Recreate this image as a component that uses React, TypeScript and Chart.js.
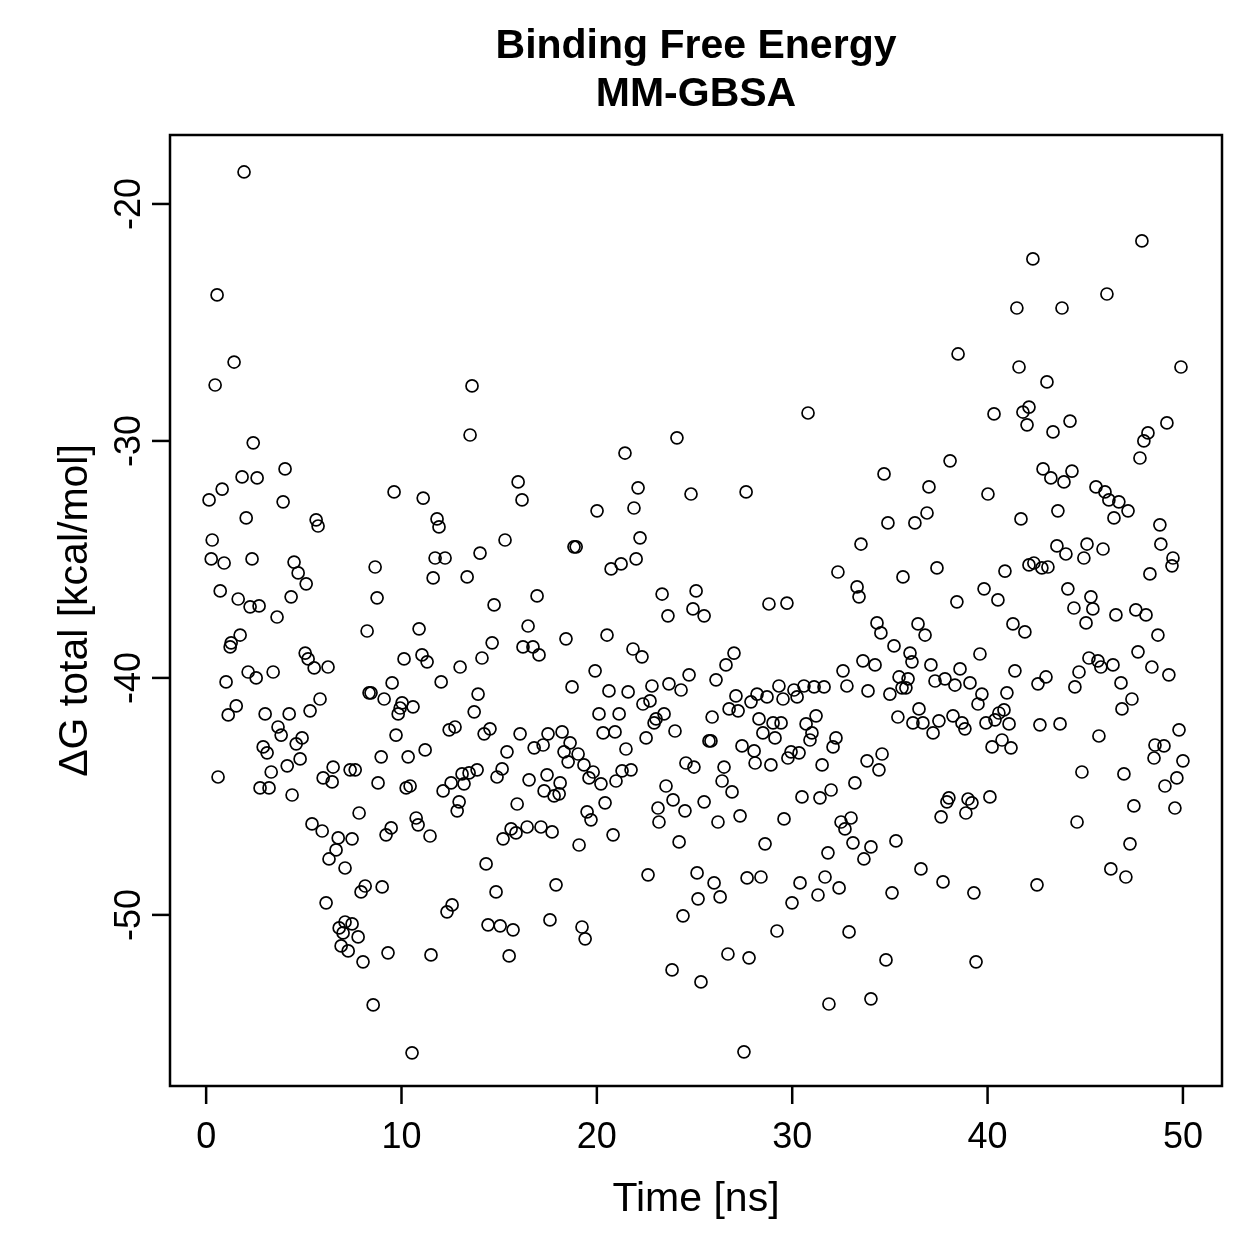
import React, { useEffect, useRef } from "react";
import { Chart, registerables } from "chart.js";

Chart.register(...registerables);

const chartTitle = ["Binding Free Energy", "MM-GBSA"];
const xAxisTitle = "Time [ns]";
const yAxisTitle = "ΔG total [kcal/mol]";
const xTicks = [0, 10, 20, 30, 40, 50];
const yTicks = [-50, -40, -30, -20];
const xRange = [-1.85, 52.0];
const yRange = [-57.22, -17.09];

const timeNs = [
  1.94, 0.56, 1.43, 0.46, 2.41, 4.04, 1.84, 2.61, 0.82, 0.15, 3.94, 2.05, 5.63, 5.73, 0.31, 0.26, 0.92, 2.35, 4.50, 4.71,
  5.12, 0.72, 1.64, 2.25, 2.71, 4.35, 3.63, 1.74, 1.28, 1.23, 5.07, 5.22, 5.53, 6.24, 2.15, 2.56, 3.43, 1.02, 1.54, 1.13,
  3.02, 4.25, 5.32, 5.83, 3.68, 3.84, 4.91, 4.61, 2.92, 3.12, 4.81, 4.15, 3.33, 0.61, 2.76, 3.22, 4.40, 5.99, 6.50, 6.45,
  7.37, 5.42, 5.94, 6.76, 6.65, 6.29, 7.11, 6.14, 6.81, 7.11, 7.01, 6.91, 7.27, 7.47, 7.78, 8.03, 8.24, 10.90, 16.48, 16.22,
  14.64, 14.12, 13.00, 10.13, 11.05, 11.31, 12.03, 9.52, 8.34, 8.44, 9.11, 10.03, 9.93, 9.83, 10.59, 13.92, 13.72, 12.44, 12.74, 14.23,
  14.53, 16.07, 9.72, 15.40, 8.96, 10.34, 11.21, 7.63, 8.80, 10.24, 10.44, 12.13, 12.54, 13.10, 13.46, 13.87, 13.20, 15.15, 14.89, 16.53,
  12.95, 12.85, 15.92, 7.83, 10.75, 10.85, 11.46, 9.47, 9.21, 7.47, 15.61, 15.86, 15.20, 16.43, 14.33, 8.14, 7.93, 9.01, 14.84, 12.59,
  12.33, 9.31, 11.51, 14.43, 15.05, 15.71, 15.51, 8.55, 10.54, 13.61, 13.51, 9.62, 11.11, 15.97, 16.17, 11.82, 11.92, 15.30, 14.02, 11.72,
  12.23, 8.65, 11.62, 13.36, 8.75, 14.74, 24.10, 21.44, 22.11, 24.82, 20.01, 21.90, 18.83, 18.94, 22.21, 22.01, 21.24, 20.73, 16.94, 23.34,
  25.08, 24.92, 23.64, 16.73, 17.04, 18.42, 20.52, 21.85, 22.31, 19.91, 18.73, 20.62, 21.60, 22.82, 23.69, 24.31, 24.72, 22.36, 22.72, 20.11,
  21.14, 23.44, 22.93, 23.03, 24.00, 22.52, 20.32, 20.93, 17.50, 18.22, 17.25, 16.79, 18.63, 18.32, 19.04, 18.53, 19.34, 19.81, 19.60, 20.21,
  20.98, 21.29, 21.75, 21.49, 17.45, 18.12, 17.30, 17.81, 18.07, 20.42, 23.54, 23.90, 23.13, 24.51, 24.56, 24.97, 25.49, 19.50, 19.70, 17.14,
  17.71, 23.18, 20.83, 19.09, 24.21, 22.62, 25.13, 25.18, 17.91, 17.60, 19.24, 19.40, 24.41, 23.85, 25.33, 30.81, 27.64, 33.52, 32.34, 33.32,
  33.42, 28.81, 29.73, 25.49, 34.34, 27.02, 26.61, 26.10, 32.60, 33.62, 34.24, 32.80, 33.88, 27.12, 28.20, 28.71, 29.32, 29.53, 30.09, 30.25,
  30.60, 31.12, 31.63, 27.89, 26.77, 27.23, 25.90, 28.30, 29.02, 29.43, 31.22, 30.71, 31.01, 30.91, 28.50, 29.12, 32.24, 32.09, 25.74, 25.84,
  27.43, 28.05, 29.94, 30.35, 29.78, 28.10, 28.91, 31.53, 33.83, 34.44, 26.51, 26.41, 26.92, 30.50, 31.42, 31.99, 33.21, 26.20, 27.33, 29.58,
  32.50, 32.70, 33.01, 28.61, 33.11, 34.03, 31.83, 33.67, 26.00, 26.31, 27.69, 28.40, 30.40, 31.68, 31.32, 32.40, 29.99, 29.22, 32.91, 26.71,
  27.79, 31.88, 34.03, 27.53, 42.32, 41.50, 38.49, 41.61, 43.04, 40.33, 41.81, 42.12, 42.02, 43.35, 38.08, 34.70, 37.00, 40.02, 42.84, 43.24,
  34.90, 36.28, 36.90, 41.71, 43.55, 35.67, 37.41, 40.89, 42.12, 42.37, 42.78, 43.09, 39.82, 40.53, 38.43, 34.54, 36.44, 36.80, 41.30, 41.91,
  35.21, 36.03, 36.13, 37.10, 39.61, 38.59, 41.40, 35.47, 35.93, 35.62, 35.82, 35.00, 37.31, 37.82, 38.33, 39.10, 39.71, 39.51, 40.99, 42.58,
  42.99, 36.49, 35.41, 36.18, 36.69, 37.51, 38.23, 38.69, 38.84, 37.21, 39.92, 40.38, 40.58, 40.84, 41.10, 42.68, 40.23, 40.74, 41.20, 34.60,
  38.02, 37.92, 39.00, 39.20, 38.89, 37.62, 40.12, 35.31, 36.59, 37.72, 35.11, 39.30, 42.53, 34.80, 39.41, 47.90, 46.11, 43.81, 49.90, 44.22,
  49.18, 48.21, 48.00, 47.80, 43.91, 44.32, 45.55, 46.01, 46.21, 46.72, 47.19, 46.47, 43.60, 48.82, 48.87, 49.49, 49.44, 44.01, 45.09, 44.93,
  45.91, 48.31, 44.11, 45.29, 44.42, 45.39, 46.57, 47.59, 48.11, 45.04, 48.72, 47.70, 45.19, 45.65, 45.80, 46.42, 44.68, 44.47, 48.41, 49.28,
  46.83, 47.39, 46.88, 43.71, 45.70, 49.80, 48.57, 49.03, 48.52, 50.00, 49.69, 49.08, 44.83, 46.98, 47.49, 49.59, 44.58, 47.29, 46.31, 47.08,
];

const deltaG = [
  -18.65, -23.84, -26.67, -27.64, -30.08, -31.18, -31.52, -31.56, -32.03, -32.49, -32.57, -33.25, -33.33, -33.59, -34.18, -34.98, -35.15, -34.98, -35.11, -35.57,
  -36.03, -36.33, -36.67, -37.00, -36.96, -36.58, -37.43, -38.19, -38.52, -38.69, -38.95, -39.20, -39.58, -39.54, -39.75, -40.00, -39.75, -40.17, -41.18, -41.56,
  -41.52, -41.52, -41.39, -40.89, -42.07, -42.41, -42.53, -42.78, -42.91, -43.16, -43.42, -43.71, -43.97, -44.18, -44.64, -44.64, -44.94, -44.22, -43.76, -44.39,
  -43.88, -46.16, -46.46, -46.75, -47.26, -47.64, -48.02, -49.49, -50.55, -50.30, -50.76, -51.31, -51.52, -50.38, -50.93, -51.98, -38.02, -37.93, -37.81, -38.69,
  -38.52, -39.16, -39.54, -39.20, -39.03, -39.32, -40.17, -40.21, -40.63, -40.63, -40.89, -41.05, -41.27, -41.52, -41.22, -40.68, -41.43, -42.19, -42.07, -42.36,
  -42.15, -42.36, -42.41, -43.12, -43.33, -43.33, -43.04, -43.88, -44.43, -44.64, -44.56, -44.77, -44.43, -44.05, -44.01, -43.88, -44.47, -43.84, -44.18, -44.30,
  -45.23, -45.61, -45.32, -45.70, -45.91, -46.20, -46.67, -46.33, -46.62, -46.79, -46.37, -46.54, -46.79, -46.29, -47.85, -48.78, -49.03, -48.82, -49.03, -49.58,
  -49.87, -51.60, -51.69, -50.42, -50.46, -50.63, -51.73, -53.80, -55.82, -27.68, -29.75, -32.15, -32.41, -31.73, -32.49, -33.29, -33.63, -34.18, -34.73, -34.94,
  -34.94, -35.32, -35.78, -35.74, -36.62, -36.92, -29.87, -30.51, -31.98, -32.24, -32.95, -32.83, -34.47, -34.47, -34.09, -34.98, -35.19, -35.40, -36.54, -36.46,
  -36.33, -37.09, -37.38, -38.69, -39.03, -38.35, -38.19, -38.78, -39.11, -39.70, -40.38, -40.55, -40.59, -40.34, -40.25, -40.51, -39.87, -41.10, -40.97, -41.52,
  -41.52, -41.52, -41.90, -41.73, -42.24, -42.53, -42.32, -42.28, -42.36, -42.28, -42.83, -42.95, -42.74, -43.12, -43.21, -43.54, -43.67, -43.97, -44.22, -44.47,
  -44.35, -43.92, -43.88, -43.00, -44.09, -44.43, -44.77, -44.98, -44.89, -45.27, -44.56, -45.15, -45.49, -45.61, -43.59, -43.76, -45.23, -45.65, -45.99, -46.29,
  -46.50, -46.08, -46.62, -47.05, -46.92, -48.31, -48.23, -49.32, -48.73, -50.21, -50.51, -51.01, -50.04, -52.32, -52.83, -28.82, -32.15, -34.35, -35.53, -36.16,
  -36.58, -36.88, -36.84, -37.38, -37.68, -38.95, -39.45, -40.08, -39.70, -39.28, -39.45, -40.34, -40.55, -40.76, -40.68, -40.80, -40.34, -40.89, -40.51, -40.80,
  -40.34, -40.38, -40.38, -41.01, -41.31, -41.39, -41.65, -41.73, -41.90, -41.90, -41.60, -41.94, -42.32, -42.62, -42.32, -42.53, -42.53, -42.91, -42.66, -42.66,
  -42.87, -43.08, -43.12, -43.16, -43.38, -43.59, -43.67, -43.67, -43.50, -43.88, -43.76, -44.35, -44.81, -45.02, -45.06, -44.73, -44.43, -46.08, -45.82, -45.95,
  -46.08, -46.37, -45.91, -47.00, -46.96, -47.13, -47.38, -47.64, -48.65, -49.24, -48.44, -48.40, -48.65, -48.40, -49.16, -48.86, -49.49, -50.68, -50.72, -51.65,
  -51.81, -53.76, -53.54, -55.78, -22.32, -24.39, -26.33, -26.88, -27.51, -28.86, -28.78, -28.57, -29.32, -29.62, -30.84, -31.39, -31.94, -32.24, -31.18, -31.56,
  -33.46, -33.46, -33.04, -33.29, -34.43, -35.74, -35.36, -35.49, -35.23, -35.15, -35.36, -35.32, -36.24, -36.71, -36.79, -38.10, -37.72, -38.19, -37.72, -38.06,
  -38.65, -38.95, -39.32, -39.45, -38.99, -39.62, -39.70, -39.96, -40.04, -40.42, -40.42, -40.68, -40.13, -40.04, -40.30, -40.21, -40.68, -41.10, -40.63, -40.25,
  -39.96, -41.31, -41.65, -41.90, -41.90, -41.81, -41.60, -41.90, -42.15, -42.32, -41.90, -41.77, -41.48, -41.35, -41.94, -41.98, -42.91, -42.62, -42.95, -43.21,
  -45.06, -45.23, -45.11, -45.27, -45.70, -45.86, -45.02, -46.88, -48.06, -48.61, -49.07, -49.07, -48.73, -51.90, -51.98, -21.56, -23.80, -24.39, -26.88, -29.16,
  -29.24, -29.66, -30.00, -30.72, -31.73, -31.27, -31.94, -32.15, -32.49, -32.57, -32.95, -33.25, -32.95, -33.54, -34.35, -34.94, -35.27, -34.77, -34.35, -34.94,
  -34.56, -35.61, -36.24, -36.58, -37.05, -37.09, -37.34, -37.13, -37.34, -37.68, -38.19, -38.90, -39.16, -39.28, -39.54, -39.45, -39.75, -40.38, -39.54, -39.87,
  -40.21, -40.89, -41.31, -41.94, -42.45, -42.19, -42.83, -42.87, -43.38, -43.50, -44.22, -44.56, -43.97, -44.05, -45.40, -45.49, -46.08, -47.00, -48.06, -48.40,
];

const FONT = "'Liberation Sans', Arial, Helvetica, sans-serif";

const rAxesPlugin = {
  id: "rAxes",
  afterDraw(chart: any) {
    const { ctx, chartArea } = chart;
    const xs = chart.scales.x;
    const ys = chart.scales.y;
    const { left, right, top, bottom } = chartArea;
    ctx.save();
    ctx.strokeStyle = "#000";
    ctx.fillStyle = "#000";
    ctx.lineWidth = 2.5;
    ctx.strokeRect(left, top, right - left, bottom - top);

    const tick = 18;
    ctx.font = `36px ${FONT}`;
    ctx.textAlign = "center";
    ctx.textBaseline = "middle";
    xTicks.forEach((v) => {
      const px = xs.getPixelForValue(v);
      ctx.beginPath();
      ctx.moveTo(px, bottom);
      ctx.lineTo(px, bottom + tick);
      ctx.stroke();
      ctx.fillText(String(v), px, 1138);
    });
    yTicks.forEach((v) => {
      const py = ys.getPixelForValue(v);
      ctx.beginPath();
      ctx.moveTo(left, py);
      ctx.lineTo(left - tick, py);
      ctx.stroke();
      ctx.save();
      ctx.translate(130, py);
      ctx.rotate(-Math.PI / 2);
      ctx.fillText(String(v), 0, 0);
      ctx.restore();
    });

    const cx = (left + right) / 2;
    const cy = (top + bottom) / 2;
    ctx.font = `41px ${FONT}`;
    ctx.fillText(xAxisTitle, cx, 1200);
    ctx.save();
    ctx.translate(76, cy);
    ctx.rotate(-Math.PI / 2);
    ctx.fillText(yAxisTitle, 0, 0);
    ctx.restore();

    ctx.font = `bold 41px ${FONT}`;
    ctx.fillText(chartTitle[0], cx, 47);
    ctx.fillText(chartTitle[1], cx, 95);
    ctx.restore();
  },
};

export default function App() {
  const ref = useRef<HTMLCanvasElement | null>(null);
  useEffect(() => {
    if (!ref.current) return;
    const points = timeNs.map((t, i) => ({ x: t, y: deltaG[i] }));
    const chart = new Chart(ref.current, {
      type: "scatter",
      data: {
        datasets: [
          {
            data: points,
            pointStyle: "circle",
            pointRadius: 6,
            pointBorderWidth: 1.7,
            borderColor: "#000",
            backgroundColor: "rgba(0,0,0,0)",
            pointBackgroundColor: "rgba(0,0,0,0)",
            pointBorderColor: "#000",
          },
        ],
      },
      options: {
        animation: false,
        responsive: false,
        events: [],
        layout: { padding: { left: 170, top: 135, right: 37, bottom: 173 } },
        plugins: { legend: { display: false }, tooltip: { enabled: false }, title: { display: false } },
        scales: {
          x: { type: "linear", display: false, min: xRange[0], max: xRange[1] },
          y: { type: "linear", display: false, min: yRange[0], max: yRange[1] },
        },
      },
      plugins: [rAxesPlugin],
    });
    return () => chart.destroy();
  }, []);
  return (
    <div style={{ position: "absolute", left: 0, top: 0, width: 1259, height: 1259, background: "#fff" }}>
      <canvas ref={ref} width={1259} height={1259} style={{ display: "block" }} />
    </div>
  );
}
